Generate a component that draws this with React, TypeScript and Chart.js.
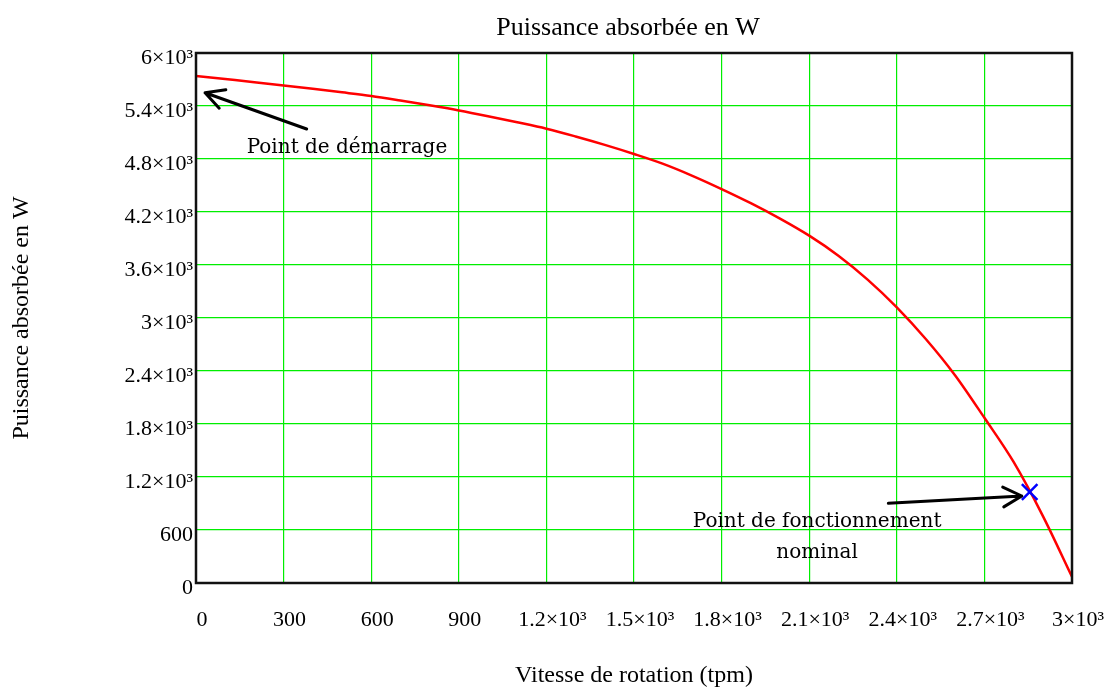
import React, { useEffect, useRef } from "react";
import { Chart, registerables } from "chart.js";

Chart.register(...registerables);

const speeds = [0, 100, 200, 300, 400, 500, 600, 700, 800, 900, 1000, 1100, 1200, 1300, 1400, 1500, 1600, 1700, 1800, 1900, 2000, 2100, 2200, 2300, 2400, 2500, 2600, 2700, 2800, 2900, 3000];
const power = [5740, 5705, 5670, 5633, 5595, 5555, 5513, 5462, 5408, 5350, 5285, 5216, 5143, 5055, 4960, 4857, 4745, 4610, 4460, 4300, 4125, 3932, 3705, 3435, 3121, 2760, 2350, 1870, 1370, 760, 70];

const nominalSpeed = [2855];
const nominalPower = [1030];

const xTickLabels = ["0", "300", "600", "900", "1.2×10³", "1.5×10³", "1.8×10³", "2.1×10³", "2.4×10³", "2.7×10³", "3×10³"];
const yTickLabels = ["0", "600", "1.2×10³", "1.8×10³", "2.4×10³", "3×10³", "3.6×10³", "4.2×10³", "4.8×10³", "5.4×10³", "6×10³"];

const chartTitle = "Puissance absorbée en W";
const xTitle = "Vitesse de rotation (tpm)";
const yTitle = "Puissance absorbée en W";

// annotations in data coordinates
const startLabel = "Point de démarrage";
const startLabelPos = [517, 4925];
const startArrowTail = [379, 5140];
const startArrowTip = [31, 5550];

const nominalLabel1 = "Point de fonctionnement";
const nominalLabel2 = "nominal";
const nominalLabelPos1 = [2127, 691];
const nominalLabelPos2 = [2127, 340];
const nominalArrowTail = [2371, 902];
const nominalArrowTip = [2828, 985];

function drawArrow(ctx: CanvasRenderingContext2D, x1: number, y1: number, x2: number, y2: number) {
  const ang = Math.atan2(y2 - y1, x2 - x1);
  const len = 21;
  const spread = (28 * Math.PI) / 180;
  ctx.beginPath();
  ctx.moveTo(x1, y1);
  ctx.lineTo(x2, y2);
  ctx.moveTo(x2 - len * Math.cos(ang - spread), y2 - len * Math.sin(ang - spread));
  ctx.lineTo(x2, y2);
  ctx.lineTo(x2 - len * Math.cos(ang + spread), y2 - len * Math.sin(ang + spread));
  ctx.stroke();
}

const overlayPlugin = {
  id: "overlay",
  afterDatasetsDraw(chart: any) {
    const ctx = chart.ctx as CanvasRenderingContext2D;
    const { left, right, top, bottom } = chart.chartArea;
    const xs = chart.scales.x;
    const ys = chart.scales.y;
    ctx.save();
    // plot frame
    ctx.strokeStyle = "#111";
    ctx.lineWidth = 2.5;
    ctx.strokeRect(left, top, right - left, bottom - top);

    // titles
    ctx.fillStyle = "#000";
    ctx.textAlign = "center";
    ctx.textBaseline = "middle";
    ctx.font = "26px 'Liberation Serif'";
    ctx.fillText(chartTitle, 628, 28);
    ctx.font = "24px 'Liberation Serif'";
    ctx.fillText(xTitle, (left + right) / 2, 676);
    ctx.save();
    ctx.translate(22, (top + bottom) / 2);
    ctx.rotate(-Math.PI / 2);
    ctx.fillText(yTitle, 0, 0);
    ctx.restore();

    // annotations
    ctx.font = "20px 'DejaVu Serif'";
    ctx.fillText(startLabel, xs.getPixelForValue(startLabelPos[0]), ys.getPixelForValue(startLabelPos[1]));
    ctx.fillText(nominalLabel1, xs.getPixelForValue(nominalLabelPos1[0]), ys.getPixelForValue(nominalLabelPos1[1]));
    ctx.fillText(nominalLabel2, xs.getPixelForValue(nominalLabelPos2[0]), ys.getPixelForValue(nominalLabelPos2[1]));

    ctx.strokeStyle = "#000";
    ctx.lineWidth = 3;
    ctx.lineCap = "round";
    ctx.lineJoin = "round";
    drawArrow(
      ctx,
      xs.getPixelForValue(startArrowTail[0]),
      ys.getPixelForValue(startArrowTail[1]),
      xs.getPixelForValue(startArrowTip[0]),
      ys.getPixelForValue(startArrowTip[1])
    );
    drawArrow(
      ctx,
      xs.getPixelForValue(nominalArrowTail[0]),
      ys.getPixelForValue(nominalArrowTail[1]),
      xs.getPixelForValue(nominalArrowTip[0]),
      ys.getPixelForValue(nominalArrowTip[1])
    );
    ctx.restore();
  },
};

export default function App() {
  const ref = useRef<HTMLCanvasElement | null>(null);
  useEffect(() => {
    if (!ref.current) return;
    const chart = new Chart(ref.current, {
      type: "line",
      data: {
        datasets: [
          {
            label: "P",
            data: speeds.map((s, i) => ({ x: s, y: power[i] })),
            borderColor: "#ff0000",
            borderWidth: 2.5,
            pointRadius: 0,
            cubicInterpolationMode: "monotone",
            fill: false,
            order: 2,
          },
          {
            label: "nominal",
            data: nominalSpeed.map((s, i) => ({ x: s, y: nominalPower[i] })),
            showLine: false,
            pointStyle: "crossRot",
            pointRadius: 11,
            pointBorderColor: "#0000ff",
            pointBackgroundColor: "#0000ff",
            pointBorderWidth: 2.5,
            order: 1,
          },
        ],
      },
      options: {
        responsive: false,
        animation: false,
        devicePixelRatio: 1,
        layout: { padding: { top: 53, right: 35, left: 0, bottom: 0 } },
        plugins: {
          legend: { display: false },
          title: { display: false },
          tooltip: { enabled: false },
        },
        scales: {
          x: {
            type: "linear",
            min: 0,
            max: 3000,
            afterFit: (s: any) => {
              s.height = 104;
              s.paddingLeft = 0;
              s.paddingRight = 0;
            },
            border: { display: false },
            grid: { color: "#00ee00", lineWidth: 1.2, drawTicks: false },
            ticks: {
              stepSize: 300,
              autoSkip: false,
              maxRotation: 0,
              padding: 24,
              labelOffset: 6,
              color: "#000",
              font: { family: "'Liberation Serif'", size: 22 },
              callback: (_v: any, i: number) => xTickLabels[i],
            },
          },
          y: {
            type: "linear",
            min: 0,
            max: 6000,
            afterFit: (s: any) => {
              s.width = 196;
              s.paddingTop = 0;
              s.paddingBottom = 0;
            },
            border: { display: false },
            grid: { color: "#00ee00", lineWidth: 1.2, drawTicks: false },
            ticks: {
              stepSize: 600,
              autoSkip: false,
              padding: 3,
              labelOffset: 5,
              color: "#000",
              font: { family: "'Liberation Serif'", size: 22 },
              callback: (_v: any, i: number) => yTickLabels[i],
            },
          },
        },
      },
      plugins: [overlayPlugin],
    });
    return () => chart.destroy();
  }, []);
  return (
    <div style={{ position: "absolute", left: 0, top: 0, width: 1107, height: 687, background: "#fff" }}>
      <canvas ref={ref} width={1107} height={687} style={{ display: "block" }} />
    </div>
  );
}
